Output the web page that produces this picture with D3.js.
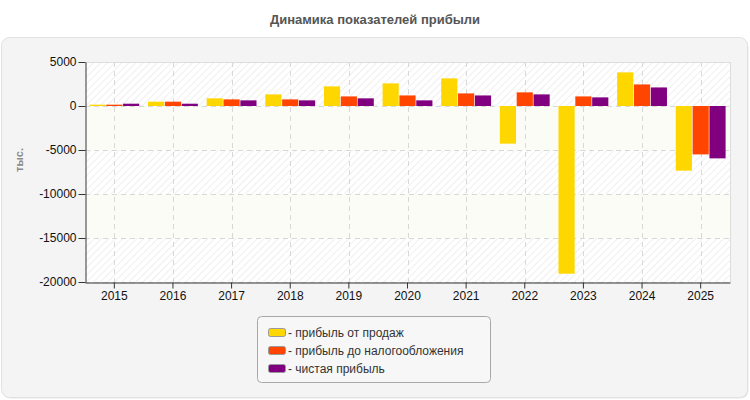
<!DOCTYPE html>
<html>
<head>
<meta charset="utf-8">
<script src="https://cdn.jsdelivr.net/npm/d3@7"></script>
<style>
  body { margin: 0; background: #fff; }
  svg { display: block; font-family: Arial, "Liberation Sans", sans-serif; }
</style>
</head>
<body>
<svg id="chart" width="750" height="400"></svg>
<script>
var years = ["2015", "2016", "2017", "2018", "2019", "2020", "2021", "2022", "2023", "2024", "2025"];
var seriesNames = ["прибыль от продаж", "прибыль до налогообложения", "чистая прибыль"];
var salesProfit = [150, 490, 870, 1320, 2230, 2570, 3140, -4280, -19060, 3820, -7350];
var pretaxProfit = [150, 490, 750, 750, 1090, 1200, 1430, 1550, 1090, 2450, -5500];
var netProfit = [260, 260, 640, 640, 870, 640, 1200, 1320, 980, 2110, -5950];
var yTicks = [5000, 0, -5000, -10000, -15000, -20000];
var colors = ["#FFD700", "#FF4500", "#800080"];

var allSeries = [salesProfit, pretaxProfit, netProfit];

var svg = d3.select("#chart");
var defs = svg.append("defs");

// diagonal hatch like the original chart background
var pat = defs.append("pattern")
  .attr("id", "hatch")
  .attr("width", 5).attr("height", 5)
  .attr("patternUnits", "userSpaceOnUse")
  .attr("patternTransform", "rotate(45)");
pat.append("rect").attr("width", 5).attr("height", 5).attr("fill", "#fff");
pat.append("line").attr("x1", 0).attr("y1", 0).attr("x2", 0).attr("y2", 5)
  .attr("stroke", "#efefef").attr("stroke-width", 2);

// outer panel
svg.append("rect")
  .attr("x", 2.5).attr("y", 38.5).attr("width", 746).attr("height", 360)
  .attr("rx", 8).attr("fill", "#e6e6e6");
svg.append("rect")
  .attr("x", 1.5).attr("y", 37.5).attr("width", 746).attr("height", 360)
  .attr("rx", 8).attr("fill", "#f4f4f4").attr("stroke", "#e2e2e2");

svg.append("text")
  .attr("x", 375).attr("y", 24)
  .attr("text-anchor", "middle")
  .attr("font-size", 13).attr("font-weight", "bold")
  .attr("fill", "#555")
  .text("Динамика показателей прибыли");

var plotLeft = 85, plotRight = 730, plotTop = 62, plotBottom = 282;

var x0 = d3.scaleBand().domain(years).range([plotLeft, plotRight])
  .paddingInner(0.15).paddingOuter(0.075);
var x1 = d3.scaleBand().domain(d3.range(allSeries.length)).range([0, x0.bandwidth()])
  .paddingInner(0.04);
var y = d3.scaleLinear().domain([-20000, 5000]).range([plotBottom, plotTop]);

// alternating bands between gridlines (top band hatched)
var bandStops = yTicks.slice().sort(d3.ascending);
for (var i = 0; i < bandStops.length - 1; i++) {
  var fromTop = bandStops.length - 2 - i;
  svg.append("rect")
    .attr("x", plotLeft).attr("width", plotRight - plotLeft)
    .attr("y", y(bandStops[i + 1])).attr("height", y(bandStops[i]) - y(bandStops[i + 1]))
    .attr("fill", fromTop % 2 === 0 ? "url(#hatch)" : "#fcfcf6");
}

// grid
svg.append("g").selectAll("line")
  .data(yTicks.filter(function (d) { return d !== 5000; }))
  .enter().append("line")
  .attr("x1", plotLeft).attr("x2", plotRight)
  .attr("y1", function (d) { return Math.round(y(d)) + 0.5; })
  .attr("y2", function (d) { return Math.round(y(d)) + 0.5; })
  .attr("stroke", "#d8d8d8").attr("stroke-dasharray", "5,4");

svg.append("g").selectAll("line")
  .data(years)
  .enter().append("line")
  .attr("x1", function (d) { return Math.round(x0(d) + x0.bandwidth() / 2) + 0.5; })
  .attr("x2", function (d) { return Math.round(x0(d) + x0.bandwidth() / 2) + 0.5; })
  .attr("y1", plotTop).attr("y2", plotBottom)
  .attr("stroke", "#d8d8d8").attr("stroke-dasharray", "5,4");

// frame top/right
svg.append("path")
  .attr("d", "M" + plotLeft + "," + (plotTop + 0.5) + "H" + (plotRight + 0.5) + "V" + plotBottom)
  .attr("fill", "none").attr("stroke", "#dddddd");

// bars
var groups = svg.append("g").selectAll("g")
  .data(years)
  .enter().append("g")
  .attr("transform", function (d) { return "translate(" + x0(d) + ",0)"; });

groups.selectAll("rect")
  .data(function (d, i) {
    return allSeries.map(function (s, k) { return { k: k, v: s[i] }; });
  })
  .enter().append("rect")
  .attr("x", function (d) { return x1(d.k); })
  .attr("width", x1.bandwidth())
  .attr("y", function (d) { return y(Math.max(0, d.v)); })
  .attr("height", function (d) { return Math.abs(y(d.v) - y(0)); })
  .attr("fill", function (d) { return colors[d.k]; });

// axes
var yAxis = svg.append("g")
  .attr("transform", "translate(" + (plotLeft + 0.5) + ",0)")
  .call(d3.axisLeft(y).tickValues(yTicks).tickSize(7).tickSizeOuter(0)
    .tickFormat(function (d) { return String(d); }));
var xAxis = svg.append("g")
  .attr("transform", "translate(0," + (plotBottom + 0.5) + ")")
  .call(d3.axisBottom(x0).tickSize(6).tickSizeOuter(0));

[yAxis, xAxis].forEach(function (a) {
  a.select(".domain").attr("stroke", "#333");
  a.selectAll(".tick line").attr("stroke", "#333");
  a.selectAll("text").attr("fill", "#111").attr("font-size", 12)
    .attr("font-family", "Arial, 'Liberation Sans', sans-serif");
});
yAxis.selectAll("text").attr("x", -9);
xAxis.selectAll("text").attr("y", 9);

svg.append("text")
  .attr("transform", "translate(23,160) rotate(-90)")
  .attr("text-anchor", "middle")
  .attr("font-size", 11).attr("font-weight", "bold")
  .attr("fill", "#888")
  .text("тыс.");

// legend
var legend = svg.append("g");
legend.append("rect")
  .attr("x", 257.5).attr("y", 316.5).attr("width", 233).attr("height", 66)
  .attr("rx", 4).attr("fill", "#f7f7f7").attr("stroke", "#a8a8a8");

var items = legend.selectAll("g.item")
  .data(seriesNames)
  .enter().append("g")
  .attr("class", "item")
  .attr("transform", function (d, i) { return "translate(268," + (328 + i * 18) + ")"; });
items.append("rect")
  .attr("x", 0.5).attr("y", 0.5).attr("width", 17).attr("height", 8)
  .attr("rx", 2)
  .attr("fill", function (d, i) { return colors[i]; })
  .attr("stroke", "#999");
items.append("text")
  .attr("x", 20).attr("y", 9)
  .attr("font-size", 12).attr("fill", "#333")
  .text(function (d) { return "- " + d; });
</script>
</body>
</html>
